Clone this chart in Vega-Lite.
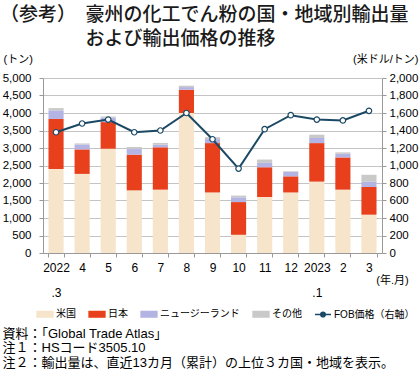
{
  "$schema": "https://vega.github.io/schema/vega-lite/v6.json",
  "width": 339,
  "height": 175,
  "autosize": {"type": "none"},
  "padding": {"left": 43, "top": 78, "right": 38, "bottom": 118},
  "background": "white",
  "config": {
    "font": "Liberation Sans, Noto Sans CJK JP",
    "view": {"stroke": null},
    "axis": {
      "labelFont": "Liberation Sans, Noto Sans CJK JP",
      "titleFont": "Liberation Sans, Noto Sans CJK JP",
      "labelColor": "#000000",
      "titleColor": "#000000",
      "domainColor": "#999999",
      "tickColor": "#999999",
      "gridColor": "#c4c4c4",
      "labelFontSize": 11.5,
      "titleFontSize": 11,
      "titleFontWeight": "normal"
    }
  },
  "title": {
    "text": ["（参考）　豪州の化工でん粉の国・地域別輸出量", "\u200b\u3000\u3000\u3000\u3000\u2002および輸出価格の推移"],
    "anchor": "start",
    "frame": "group",
    "dx": -43,
    "offset": 4,
    "fontSize": 19,
    "lineHeight": 24,
    "font": "Noto Sans CJK JP",
    "fontWeight": 500,
    "color": "#1a1a1a"
  },
  "data": {
    "values": [
      {"m": "2022.3", "米国": 2400, "日本": 1430, "ニュージーランド": 245, "その他": 65, "FOB": 1380},
      {"m": "4", "米国": 2260, "日本": 700, "ニュージーランド": 140, "その他": 30, "FOB": 1480},
      {"m": "5", "米国": 2980, "日本": 760, "ニュージーランド": 130, "その他": 30, "FOB": 1525},
      {"m": "6", "米国": 1790, "日本": 1020, "ニュージーランド": 160, "その他": 60, "FOB": 1380},
      {"m": "7", "米国": 1810, "日本": 1210, "ニュージーランド": 75, "その他": 50, "FOB": 1400},
      {"m": "8", "米国": 4000, "日本": 665, "ニュージーランド": 75, "その他": 40, "FOB": 1600},
      {"m": "9", "米国": 1730, "日本": 1410, "ニュージーランド": 115, "その他": 55, "FOB": 1300},
      {"m": "10", "米国": 520, "日本": 935, "ニュージーランド": 135, "その他": 50, "FOB": 965},
      {"m": "11", "米国": 1600, "日本": 850, "ニュージーランド": 125, "その他": 95, "FOB": 1415},
      {"m": "12", "米国": 1730, "日本": 460, "ニュージーランド": 125, "その他": 20, "FOB": 1575},
      {"m": "2023.1", "米国": 2040, "日本": 1100, "ニュージーランド": 145, "その他": 95, "FOB": 1525},
      {"m": "2", "米国": 1810, "日本": 920, "ニュージーランド": 105, "その他": 40, "FOB": 1515},
      {"m": "3", "米国": 1095, "日本": 790, "ニュージーランド": 150, "その他": 200, "FOB": 1625}
    ]
  },
  "layer": [
    {
      "transform": [
        {"fold": ["米国", "日本", "ニュージーランド", "その他"], "as": ["s", "v"]},
        {"calculate": "indexof(['米国','日本','ニュージーランド','その他'], datum.s)", "as": "k"}
      ],
      "mark": {"type": "bar"},
      "encoding": {
        "x": {
          "field": "m", "type": "nominal", "sort": null,
          "scale": {"paddingInner": 0.42, "paddingOuter": 0.21},
          "axis": {
            "orient": "bottom",
            "title": "(年.月)",
            "titleX": 349, "titleY": 27, "titleAlign": "center", "titleBaseline": "middle",
            "titleFontSize": 11,
            "labelAngle": 0, "labelFontSize": 12, "labelLineHeight": 25,
            "labelBaseline": "top", "labelPadding": 5,
            "tickBand": "extent", "tickSize": 4,
            "labelExpr": "indexof(datum.label,'.')>0 ? [slice(datum.label,0,4), slice(datum.label,4)] : datum.label"
          }
        },
        "y": {
          "field": "v", "type": "quantitative", "stack": "zero",
          "scale": {"domain": [0, 5000]},
          "axis": {
            "title": "(トン)", "titleAngle": 0, "titleX": -40, "titleY": -19,
            "titleAlign": "left", "titleBaseline": "middle",
            "values": [0, 500, 1000, 1500, 2000, 2500, 3000, 3500, 4000, 4500, 5000],
            "format": ",.0f", "grid": true, "tickSize": 4, "labelPadding": 8
          }
        },
        "color": {
          "field": "s", "type": "nominal",
          "scale": {
            "domain": ["米国", "日本", "ニュージーランド", "その他", "FOB価格（右軸）"],
            "range": ["#f6e4cb", "#e8401c", "#b4b4e4", "#c9c9c9", "#1b4965"]
          },
          "legend": {
            "orient": "none", "legendX": -7, "legendY": 227,
            "direction": "horizontal", "columns": 5, "title": null,
            "padding": 0, "columnPadding": 10,
            "labelFont": "Liberation Sans, Noto Sans CJK JP", "labelFontSize": 10, "labelColor": "#000000",
            "labelOffset": 2, "symbolSize": 256,
            "encode": {
              "symbols": {
                "update": {
                  "shape": {"signal": "datum.value === 'FOB価格（右軸）' ? 'M-1,0H-0.3M0.3,0H1M-0.3,0A0.3,0.3 0 1,1 0.3,0A0.3,0.3 0 1,1 -0.3,0Z' : 'M-1,-0.35H1V0.35H-1Z'"},
                  "fill": {"signal": "datum.value === 'FOB価格（右軸）' ? '#ffffff' : scale('color', datum.value)"},
                  "stroke": {"signal": "datum.value === 'FOB価格（右軸）' ? '#1b4965' : datum.value === '米国' ? '#e3c9a3' : scale('color', datum.value)"},
                  "strokeWidth": {"value": 1.3},
                  "opacity": {"value": 1}
                }
              }
            }
          }
        },
        "order": {"field": "k"}
      }
    },
    {
      "mark": {"type": "line", "strokeWidth": 2},
      "encoding": {
        "x": {"field": "m", "type": "nominal", "sort": null, "axis": null},
        "y": {
          "field": "FOB", "type": "quantitative",
          "scale": {"domain": [0, 2000]},
          "axis": {
            "orient": "right",
            "title": "(米ドル/トン)", "titleAngle": 0, "titleX": 36, "titleY": -19,
            "titleAlign": "right", "titleBaseline": "middle",
            "values": [0, 200, 400, 600, 800, 1000, 1200, 1400, 1600, 1800, 2000],
            "format": ",.0f", "grid": false, "tickSize": 4, "labelPadding": 3
          }
        },
        "color": {"datum": "FOB価格（右軸）"}
      }
    },
    {
      "mark": {"type": "point", "filled": true, "fill": "#ffffff", "stroke": "#1b4965", "strokeWidth": 1.2, "size": 30, "opacity": 1},
      "encoding": {
        "x": {
          "field": "m", "type": "nominal", "sort": null,
          "axis": {
            "orient": "bottom",
            "title": ["資料：「Global Trade Atlas」", "注１：HSコード3505.10", "注２：輸出量は、直近13カ月（累計）の上位３カ国・地域を表示。"],
            "labels": false, "ticks": false, "domain": false, "grid": false,
            "titleX": -41, "titleY": 74, "titleAlign": "left", "titleBaseline": "top",
            "titleFontSize": 13, "titleLineHeight": 14.5
          }
        },
        "y": {"field": "FOB", "type": "quantitative", "scale": {"domain": [0, 2000]}, "axis": null}
      }
    }
  ],
  "resolve": {"scale": {"y": "independent"}, "axis": {"x": "independent"}}
}
